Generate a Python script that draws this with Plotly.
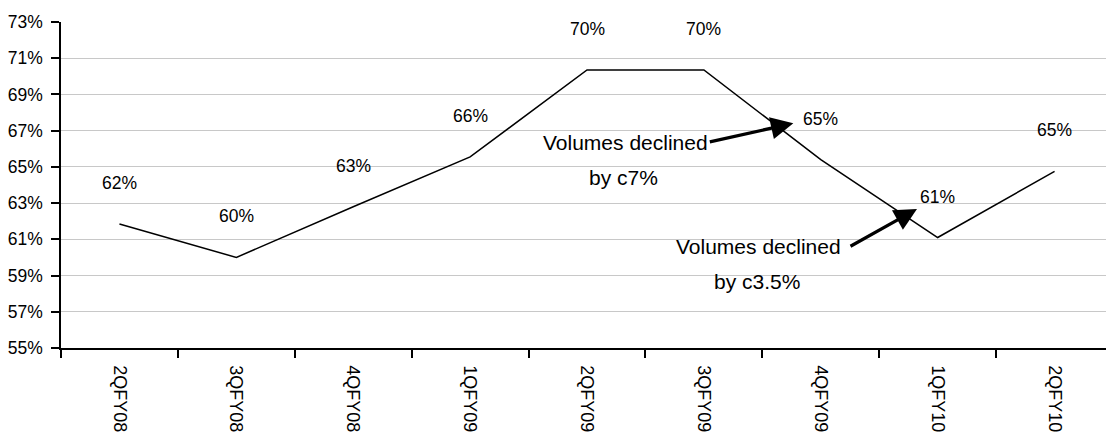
import plotly.graph_objects as go

# Quarterly utilisation series
quarters = ["2QFY08", "3QFY08", "4QFY08", "1QFY09", "2QFY09",
            "3QFY09", "4QFY09", "1QFY10", "2QFY10"]
utilisation = [61.85, 60.0, 62.8, 65.55, 70.35, 70.35, 65.4, 61.1, 64.75]
value_labels = ["62%", "60%", "63%", "66%", "70%", "70%", "65%", "61%", "65%"]

y_ticks = list(range(55, 74, 2))
y_tick_text = [f"{v}%" for v in y_ticks]

FONT = "Liberation Sans, Arial, Helvetica, sans-serif"

fig = go.Figure()
fig.add_trace(go.Scatter(
    x=quarters, y=utilisation, mode="lines",
    line=dict(color="black", width=1.5),
    hoverinfo="skip", showlegend=False,
))

annotations = []
# value labels sitting above each point
for q, v, t in zip(quarters, utilisation, value_labels):
    annotations.append(dict(
        x=q, y=v, xref="x", yref="y", text=t, showarrow=False,
        yshift=41, font=dict(family=FONT, size=17.5, color="black"),
        xanchor="center", yanchor="middle",
    ))

# callout text
callouts = [
    (4.329, 66.34, "Volumes declined"),
    (4.314, 64.39, "by c7%"),
    (5.471, 60.59, "Volumes declined"),
    (5.457, 58.66, "by c3.5%"),
]
for x, y, t in callouts:
    annotations.append(dict(
        x=x, y=y, xref="x", yref="y", text=t, showarrow=False,
        font=dict(family=FONT, size=21, color="black"),
        xanchor="center", yanchor="middle",
    ))

# callout arrows
arrows = [
    (5.765, 67.41, -85, 19),
    (6.823, 62.67, -68, 38),
]
for x, y, ax, ay in arrows:
    annotations.append(dict(
        x=x, y=y, xref="x", yref="y", ax=ax, ay=ay, axref="pixel", ayref="pixel",
        text="", showarrow=True, arrowhead=2, arrowsize=1.4, arrowwidth=3.2,
        arrowcolor="black", standoff=0,
    ))

fig.update_layout(
    width=1106, height=439, autosize=False,
    margin=dict(l=61, r=0, t=22, b=91),
    paper_bgcolor="white", plot_bgcolor="white",
    annotations=annotations,
    showlegend=False,
)

fig.update_xaxes(
    type="category", range=[-0.5, 8.44],
    showline=True, linecolor="black", linewidth=1.5,
    ticks="outside", ticklen=8, tickwidth=1.5, tickcolor="black",
    tickson="boundaries", tickangle=90, ticklabelstandoff=12,
    tickfont=dict(family=FONT, size=18, color="black"),
    showgrid=False, zeroline=False,
)
fig.update_yaxes(
    range=[55, 73], tickvals=y_ticks, ticktext=y_tick_text,
    showline=True, linecolor="black", linewidth=1.5,
    ticks="outside", ticklen=8, tickwidth=1.5, tickcolor="black",
    ticklabelstandoff=5,
    tickfont=dict(family=FONT, size=17.5, color="black"),
    showgrid=True, gridcolor="#c8c8c8", gridwidth=1.2,
    zeroline=False,
)

fig.write_html("out.html")
